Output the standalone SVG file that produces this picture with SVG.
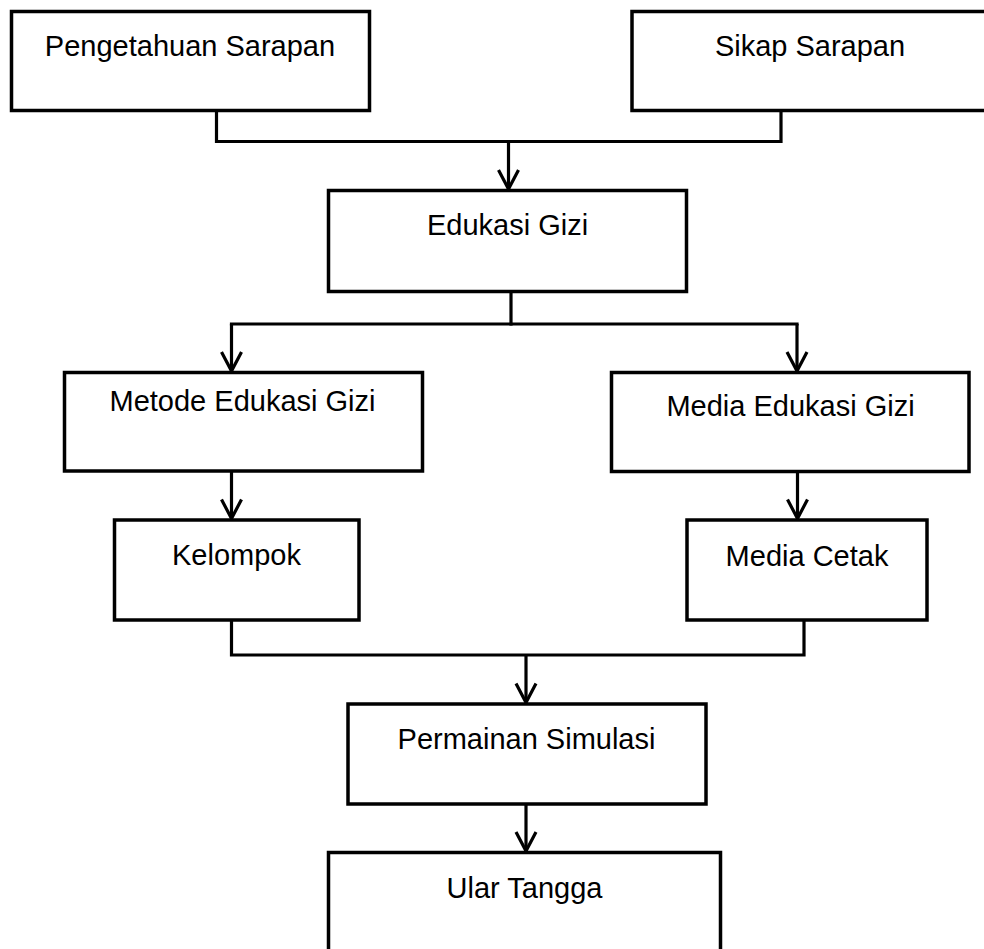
<svg xmlns="http://www.w3.org/2000/svg" width="984" height="949" viewBox="0 0 984 949">
<style>
.box{fill:#fff;stroke:#000;stroke-width:3.5}
.lbl{font-family:"Liberation Sans",Arial,sans-serif;font-size:29px;fill:#000;text-anchor:middle}
.ln{fill:none;stroke:#000;stroke-width:3.2;stroke-linecap:square}
.arr{fill:none;stroke:#000;stroke-width:3.2;marker-end:url(#ah)}
</style>
<defs>
<marker id="ah" markerUnits="userSpaceOnUse" markerWidth="30" markerHeight="30" refX="0" refY="0" orient="auto" overflow="visible">
<path d="M-19,-10 L0,0 L-19,10" fill="none" stroke="#000" stroke-width="3.2"/>
</marker>
</defs>
<rect width="984" height="949" fill="#fff"/>
<g id="connectors">
<polyline class="ln" points="216.5,110.5 216.5,141.5 781,141.5 781,110.5"/>
<line class="arr" x1="508.5" y1="141.5" x2="508.5" y2="189"/>
<polyline class="ln" points="511,291.5 511,324"/>
<line class="ln" x1="231.5" y1="324" x2="797" y2="324"/>
<line class="arr" x1="231.5" y1="324" x2="231.5" y2="371"/>
<line class="arr" x1="797" y1="324" x2="797" y2="371"/>
<line class="arr" x1="231.5" y1="471" x2="231.5" y2="518.5"/>
<line class="arr" x1="797.5" y1="471" x2="797.5" y2="518.5"/>
<polyline class="ln" points="231.5,620 231.5,655 804,655 804,620"/>
<line class="arr" x1="526" y1="655" x2="526" y2="702.5"/>
<line class="arr" x1="526" y1="804" x2="526" y2="851"/>
</g>
<g id="n1"><rect class="box" x="11.5" y="11.5" width="358" height="99"/><text class="lbl" x="190" y="56">Pengetahuan Sarapan</text></g>
<g id="n2"><rect class="box" x="632" y="11.5" width="356" height="99"/><text class="lbl" x="810" y="56">Sikap Sarapan</text></g>
<g id="n3"><rect class="box" x="328.5" y="190.5" width="358" height="101"/><text class="lbl" x="507.5" y="235">Edukasi Gizi</text></g>
<g id="n4"><rect class="box" x="64.5" y="372.5" width="358" height="98.5"/><text class="lbl" x="242.5" y="411">Metode Edukasi Gizi</text></g>
<g id="n5"><rect class="box" x="611.5" y="372.5" width="357.5" height="99"/><text class="lbl" x="790.5" y="416">Media Edukasi Gizi</text></g>
<g id="n6"><rect class="box" x="114.5" y="520" width="244.5" height="100"/><text class="lbl" x="236.5" y="565">Kelompok</text></g>
<g id="n7"><rect class="box" x="687" y="520" width="240" height="100"/><text class="lbl" x="807" y="566">Media Cetak</text></g>
<g id="n8"><rect class="box" x="348" y="704" width="358" height="100"/><text class="lbl" x="526.5" y="749">Permainan Simulasi</text></g>
<g id="n9"><rect class="box" x="328.5" y="852.5" width="392" height="110"/><text class="lbl" x="524.5" y="897.5">Ular Tangga</text></g>
</svg>
